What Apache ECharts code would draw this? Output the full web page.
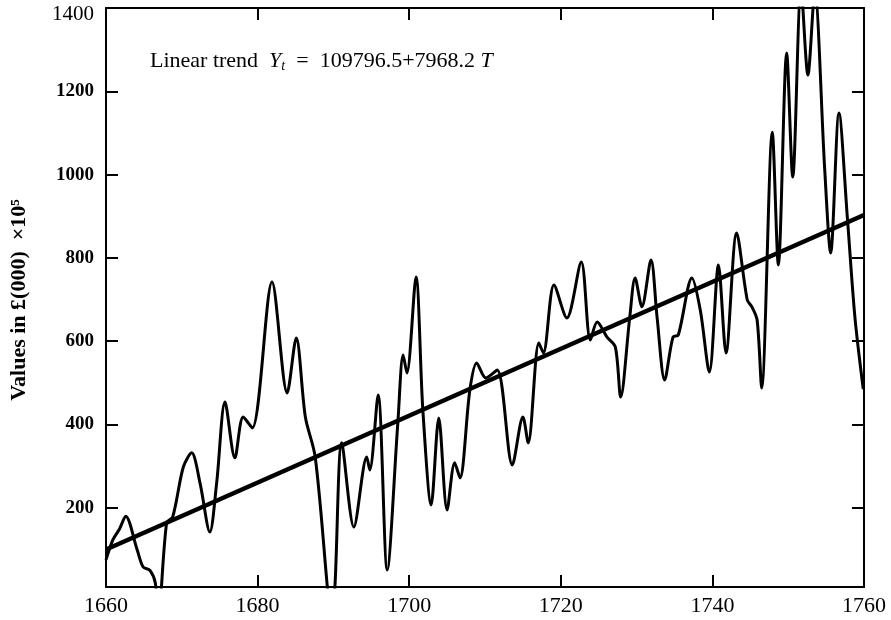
<!DOCTYPE html>
<html>
<head>
<meta charset="utf-8">
<title>Linear trend</title>
<script src="https://cdn.jsdelivr.net/npm/echarts@6/dist/echarts.min.js"></script>
<style>
    html, body { margin: 0; padding: 0; background: #fff; }
    #main { width: 891px; height: 620px; }
</style>
</head>
<body>
<div id="main"></div>
<script>
// 数据
var years = [1660.0, 1660.9, 1661.8, 1662.6, 1664.1, 1664.9, 1665.8, 1666.5, 1666.9, 1668.0,
    1668.8, 1670.2, 1671.3, 1672.4, 1673.7, 1674.6, 1675.7, 1677.0, 1678.1, 1679.3,
    1681.9, 1683.9, 1685.1, 1686.3, 1687.6, 1689.2, 1689.7, 1690.2, 1691.1, 1692.7,
    1694.4, 1694.8, 1695.9, 1697.1, 1698.5, 1699.2, 1699.7, 1700.9, 1701.8, 1702.9,
    1703.9, 1705.0, 1706.0, 1706.7, 1708.0, 1708.9, 1710.1, 1711.6, 1713.6, 1715.0,
    1715.7, 1717.1, 1717.7, 1719.1, 1720.8, 1722.7, 1723.9, 1724.8, 1726.1, 1727.2,
    1727.9, 1729.1, 1729.8, 1730.7, 1731.9, 1732.7, 1733.7, 1734.8, 1735.5, 1737.3,
    1738.4, 1739.6, 1740.8, 1741.8, 1743.2, 1744.6, 1745.2, 1745.9, 1746.5, 1747.9,
    1748.7, 1749.8, 1750.6, 1751.7, 1752.6, 1753.5, 1754.8, 1755.6, 1756.7, 1757.8,
    1758.8, 1759.9];
var values = [75, 123, 150, 180, 100, 58, 50, 20, -60, 164,
    178, 298, 332, 260, 142, 260, 454, 320, 418, 392,
    742, 476, 608, 418, 322, 10, -90, 10, 356, 154,
    322, 291, 471, 51, 404, 567, 524, 754, 435, 207,
    416, 195, 308, 272, 483, 548, 512, 531, 303, 418,
    356, 596, 572, 735, 656, 790, 603, 646, 610, 586,
    466, 658, 752, 683, 795, 658, 507, 610, 615, 752,
    675, 526, 783, 572, 860, 699, 683, 651, 488, 1102,
    783, 1292, 994, 1450, 1239, 1440, 1018, 812, 1148, 898,
    658, 485];
// 趋势线两端
var trendYears = [1660, 1760];
var trendValues = [100, 903];
// 刻度
var yTicks = [200, 400, 600, 800, 1000, 1200, 1400];
var yTicksRight = [200, 400, 600, 800, 1000, 1200];

var serif = "'Liberation Serif', 'DejaVu Serif', serif";

var chart = echarts.init(document.getElementById('main'));

var option = {
    backgroundColor: '#fff',
    animation: false,
    grid: { left: 106, right: 27, top: 8, bottom: 33 },
    xAxis: [{
        type: 'value',
        min: 1660,
        max: 1760,
        interval: 20,
        axisLine: { lineStyle: { color: '#000', width: 2 } },
        axisTick: { inside: true, length: 12, lineStyle: { color: '#000', width: 2 } },
        axisLabel: {
            color: '#000', fontFamily: serif, fontSize: 22, margin: 8,
            formatter: function (v) { return String(v); }
        },
        splitLine: { show: false }
    }, {
        type: 'value',
        position: 'top',
        min: 1660,
        max: 1760,
        interval: 20,
        axisLine: { lineStyle: { color: '#000', width: 2 } },
        axisTick: { inside: true, length: 12, lineStyle: { color: '#000', width: 2 } },
        axisLabel: { show: false },
        splitLine: { show: false }
    }],
    yAxis: [{
        type: 'value',
        min: 10,
        max: 1400,
        axisLine: { show: true, lineStyle: { color: '#000', width: 2 } },
        axisTick: { show: true, inside: true, length: 12, customValues: yTicks,
            lineStyle: { color: '#000', width: 2 } },
        axisLabel: {
            customValues: yTicks,
            margin: 12,
            formatter: function (v) {
                return v === 1400 ? '{top|1400}' : '{b|' + v + '}';
            },
            rich: {
                top: { color: '#000', fontFamily: serif, fontSize: 21, padding: [12, 0, 0, 0] },
                b: { color: '#000', fontFamily: serif, fontSize: 19, fontWeight: 'bold' }
            }
        },
        splitLine: { show: false }
    }, {
        type: 'value',
        position: 'right',
        min: 10,
        max: 1400,
        axisLine: { show: true, lineStyle: { color: '#000', width: 2 } },
        axisTick: { show: true, inside: true, length: 12, customValues: yTicksRight,
            lineStyle: { color: '#000', width: 2 } },
        axisLabel: { show: false },
        splitLine: { show: false }
    }],
    graphic: [{
        type: 'text',
        left: 150,
        top: 50,
        style: {
            text: 'Linear trend  {i|Y}{s|t}  =  109796.5+7968.2 {i|T}',
            fill: '#000',
            font: '22px ' + serif,
            rich: {
                i: { fontFamily: serif, fontSize: 22, fontStyle: 'italic' },
                s: { fontFamily: serif, fontSize: 14, fontStyle: 'italic', padding: [10, 0, 0, 0] }
            }
        }
    }, {
        type: 'text',
        x: 19,
        y: 300,
        rotation: Math.PI / 2,
        style: {
            text: 'Values in £(000)  ×10⁵',
            fill: '#000',
            font: 'bold 22px ' + serif,
            align: 'center',
            verticalAlign: 'middle'
        }
    }],
    series: [{
        name: '数值',
        type: 'line',
        smooth: 0.3,
        symbol: 'none',
        clip: true,
        lineStyle: { color: '#000', width: 3 },
        data: years.map(function (y, i) { return [y, values[i]]; })
    }, {
        name: '趋势',
        type: 'line',
        symbol: 'none',
        lineStyle: { color: '#000', width: 4.5 },
        data: trendYears.map(function (y, i) { return [y, trendValues[i]]; })
    }]
};
chart.setOption(option);
</script>
</body>
</html>
